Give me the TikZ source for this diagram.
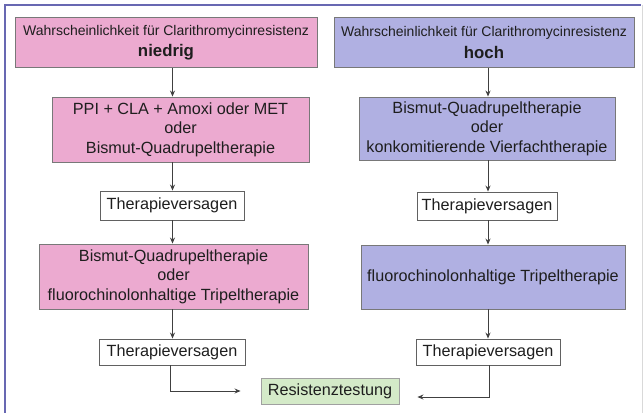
\documentclass[tikz,border=0pt]{standalone}
\usepackage{fontspec}
\setmainfont{Liberation Sans}
\usetikzlibrary{arrows.meta}
\definecolor{pinkbox}{RGB}{236,170,208}
\definecolor{bluebox}{RGB}{176,176,226}
\definecolor{greenbox}{RGB}{212,234,200}
\definecolor{frameblue}{RGB}{104,104,178}
\definecolor{boxline}{RGB}{120,120,120}
\definecolor{txt}{RGB}{30,30,30}
\tikzset{
  box/.style={draw=boxline, line width=0.9pt, text=txt, align=center, inner sep=0pt, font=\fontsize{16.2}{19.5}\selectfont},
  pinkb/.style={box, fill=pinkbox},
  blueb/.style={box, fill=bluebox},
  whiteb/.style={box, fill=white, draw=txt!70},
  greenb/.style={box, fill=greenbox, draw=boxline!70},
  conn/.style={draw=txt!85, line width=0.9pt, -{Stealth[length=6pt,width=5pt]}},
}
\begin{document}
\begin{tikzpicture}[x=1pt,y=-1pt]
\useasboundingbox (0,0) rectangle (644,412);
\fill[white] (0,0) rectangle (644,412);
\draw[frameblue, line width=2pt] (5,413) -- (5,5) -- (641,5);
\draw[black!15, line width=1pt] (642.5,5) -- (642.5,413);

\node[pinkb, minimum width=302, minimum height=50] (L1) at (166,42.5)
  {{\fontsize{14}{16}\selectfont Wahrscheinlichkeit für Clarithromycinresistenz}\\[2pt]{\fontsize{16.8}{18}\selectfont\bfseries niedrig}};
\node[blueb, minimum width=300, minimum height=50] (R1) at (484,42.5)
  {{\fontsize{14}{16}\selectfont Wahrscheinlichkeit für Clarithromycinresistenz}\\[2pt]{\fontsize{16.8}{18}\selectfont\bfseries hoch}};

\node[pinkb, minimum width=257, minimum height=65] (L2) at (180.5,129.5)
  {PPI + CLA + Amoxi oder MET\\oder\\Bismut-Quadrupeltherapie};
\node[blueb, minimum width=256, minimum height=63] (R2) at (487,128.5)
  {Bismut-Quadrupeltherapie\\oder\\konkomitierende Vierfachtherapie};

\node[whiteb, minimum width=144, minimum height=29] (L3) at (172,205.5) {Therapieversagen};
\node[whiteb, minimum width=140, minimum height=28] (R3) at (487,206) {Therapieversagen};

\node[pinkb, minimum width=269, minimum height=65] (L4) at (173.5,276.5)
  {Bismut-Quadrupeltherapie\\oder\\fluorochinolonhaltige Tripeltherapie};
\node[blueb, minimum width=264, minimum height=64] (R4) at (493,277)
  {fluorochinolonhaltige Tripeltherapie};

\node[whiteb, minimum width=146, minimum height=26] (L5) at (172,352) {Therapieversagen};
\node[whiteb, minimum width=144, minimum height=26] (R5) at (488,352) {Therapieversagen};

\node[greenb, minimum width=138, minimum height=26] (G) at (330,391) {Resistenztestung};

\coordinate (lx) at (172.5,0);
\coordinate (rx) at (488,0);
\draw[conn] (L1.south -| lx) -- (L2.north -| lx);
\draw[conn] (L2.south -| lx) -- (L3.north -| lx);
\draw[conn] (L3.south -| lx) -- (L4.north -| lx);
\draw[conn] (L4.south -| lx) -- (L5.north -| lx);
\draw[conn] (R1.south -| rx) -- (R2.north -| rx);
\draw[conn] (R2.south -| rx) -- (R3.north -| rx);
\draw[conn] (R3.south -| rx) -- (R4.north -| rx);
\draw[conn] (R4.south -| rx) -- (R5.north -| rx);

\coordinate (lc) at (170,391);
\coordinate (rc) at (489,397);
\draw[conn, shorten >=20pt] (L5.south -| lc) -- (lc) -- (G.west |- lc);
\draw[conn, shorten >=18pt] (R5.south -| rc) -- (rc) -- (G.east |- rc);
\end{tikzpicture}
\end{document}
